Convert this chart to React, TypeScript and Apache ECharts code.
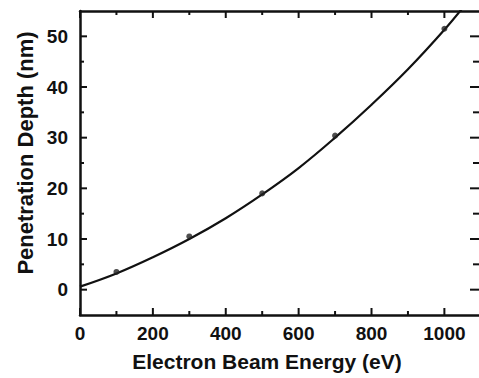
import React, { useEffect, useRef } from "react";
import * as echarts from "echarts";

const curveEnergy = [0, 100, 200, 300, 400, 500, 600, 700, 800, 900, 1000, 1060];
const curveDepth = [0.6, 3.2, 6.4, 10.0, 14.1, 18.8, 24.0, 30.0, 36.5, 43.5, 51.3, 56.5];
const pointEnergy = [100, 300, 500, 700, 1000];
const pointDepth = [3.5, 10.5, 19.0, 30.4, 51.5];
const xTicks = [0, 200, 400, 600, 800, 1000];
const xMinorTicks = [100, 300, 500, 700, 900];
const yTicks = [0, 10, 20, 30, 40, 50];
const yMinorTicks = [5, 15, 25, 35, 45];
const xTitle = "Electron Beam Energy (eV)";
const yTitle = "Penetration Depth (nm)";

const FONT = "Liberation Sans, Arial, sans-serif";
const INK = "#111";
const X_MIN = 0;
const X_MAX = 1095;
const Y_MIN = -5;
const Y_MAX = 55;

function xAxisOpt(pos: string) {
  return {
    type: "value",
    min: X_MIN,
    max: X_MAX,
    interval: 100,
    position: pos,
    axisLine: { show: true, onZero: false, lineStyle: { color: INK, width: 2.5 } },
    axisTick: { show: false },
    splitLine: { show: false },
    axisLabel: { show: false },
  };
}

function yAxisOpt(pos: string, showLine: boolean) {
  return {
    type: "value",
    min: Y_MIN,
    max: Y_MAX,
    interval: 5,
    position: pos,
    axisLine: { show: showLine, onZero: false, lineStyle: { color: INK, width: 2.5 } },
    axisTick: { show: false },
    splitLine: { show: false },
    axisLabel: { show: false },
  };
}

export default function App() {
  const ref = useRef<HTMLDivElement>(null);
  useEffect(() => {
    if (!ref.current) return;
    const chart = echarts.init(ref.current, undefined, { renderer: "svg" });
    chart.setOption({
      animation: false,
      grid: { left: 80, top: 11, width: 402, height: 304 },
      xAxis: [xAxisOpt("bottom"), xAxisOpt("top")],
      yAxis: [yAxisOpt("left", true), yAxisOpt("right", false)],
      series: [
        {
          type: "line",
          data: curveEnergy.map((e, i) => [e, curveDepth[i]]),
          smooth: 0.4,
          showSymbol: false,
          lineStyle: { color: INK, width: 2.2 },
          z: 3,
        },
        {
          type: "scatter",
          data: pointEnergy.map((e, i) => [e, pointDepth[i]]),
          symbol: "circle",
          symbolSize: 6,
          itemStyle: { color: "#222" },
          z: 4,
        },
      ],
    });
    try {
      const g: any[] = [];
      const toPx = (x: number, y: number) => chart.convertToPixel({ gridIndex: 0 }, [x, y]) as number[];
      const textStyle = (t: string, size: number, align: string) => ({
        text: t,
        fill: INK,
        font: `bold ${size}px ${FONT}`,
        align,
        verticalAlign: "middle",
      });
      const yTick = (v: number, len: number) => {
        const pL = toPx(X_MIN, v);
        const pR = toPx(X_MAX, v);
        g.push({ type: "rect", shape: { x: pL[0], y: pL[1] - 1, width: len, height: 2 }, style: { fill: INK } });
        g.push({ type: "rect", shape: { x: pR[0] - len - 2, y: pR[1] - 1, width: len + 2, height: 2 }, style: { fill: INK } });
      };
      const xTick = (v: number, len: number) => {
        const pB = toPx(v, Y_MIN);
        const pT = toPx(v, Y_MAX);
        g.push({ type: "rect", shape: { x: pB[0] - 1, y: pB[1] - len, width: 2, height: len }, style: { fill: INK } });
        g.push({ type: "rect", shape: { x: pT[0] - 1, y: pT[1], width: 2, height: len }, style: { fill: INK } });
      };
      yTicks.forEach((v) => {
        yTick(v, 7);
        const pL = toPx(X_MIN, v);
        g.push({ type: "text", x: pL[0] - 12, y: pL[1], style: textStyle(String(v), 19, "right") });
      });
      yMinorTicks.forEach((v) => yTick(v, 4));
      xTicks.forEach((v) => {
        xTick(v, 7);
        const pB = toPx(v, Y_MIN);
        g.push({ type: "text", x: pB[0], y: pB[1] + 18, style: textStyle(String(v), 19, "center") });
      });
      xMinorTicks.forEach((v) => xTick(v, 4));
      g.push({ type: "text", x: 267, y: 361, style: textStyle(xTitle, 21, "center") });
      g.push({ type: "text", x: 25, y: 153, rotation: Math.PI / 2, style: textStyle(yTitle, 22, "center") });
      chart.setOption({ graphic: { elements: g } });
    } catch (e) {
      chart.setOption({ graphic: [{ type: "text", x: 100, y: 150, style: { text: "ERR " + String(e), fill: "red", fontSize: 10 } }] });
    }
    return () => chart.dispose();
  }, []);
  return <div ref={ref} style={{ position: "fixed", left: 0, top: 0, width: 479, height: 378, background: "#fff" }} />;
}
